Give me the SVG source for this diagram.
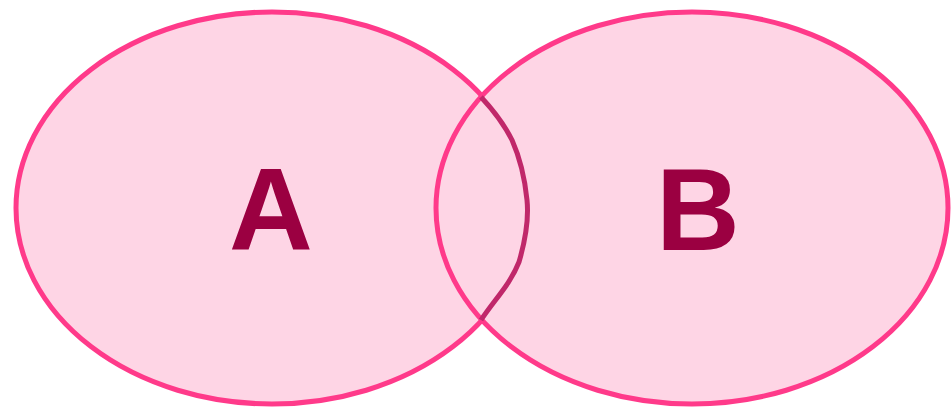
<svg xmlns="http://www.w3.org/2000/svg" width="951" height="407" viewBox="0 0 951 407">
<style>
.set{fill:#fed5e5;stroke:#ff3a8a;stroke-width:5}
.lbl{font-family:"Liberation Sans",Arial,sans-serif;font-weight:bold;font-size:116px;fill:#9b0041;text-anchor:middle}
.ov{fill:none;stroke:#c0286a;stroke-width:5;stroke-linejoin:round}
</style>
<rect width="951" height="407" fill="#ffffff"/>
<g id="setA"><ellipse class="set" cx="272" cy="208" rx="256" ry="196"/></g>
<g id="setB"><ellipse class="set" cx="692" cy="208" rx="256" ry="196"/></g>
<g id="connectors"><path class="ov" d="M481,97 C495,112 506,128 512,140 C520,158 525,180 527,200 C529,220 524,245 519,262 C510,285 494,300 481,320"/></g>
<g id="labelA"><text class="lbl" x="271" y="250">A</text></g>
<g id="labelB"><text class="lbl" x="698" y="250">B</text></g>
</svg>
